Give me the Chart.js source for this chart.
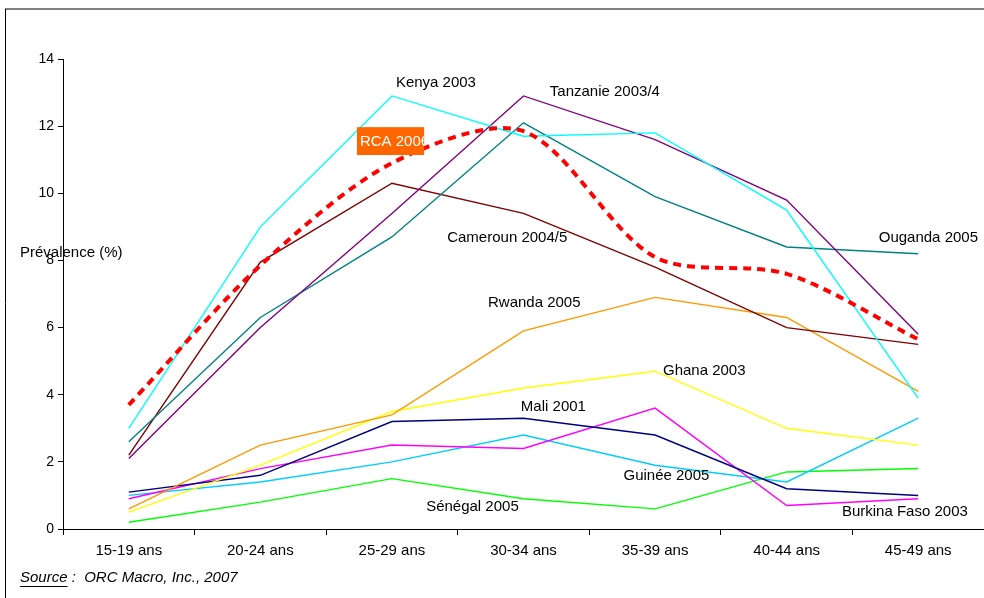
<!DOCTYPE html>
<html>
<head>
<meta charset="utf-8">
<script src="https://cdn.jsdelivr.net/npm/chart.js@4"></script>
<style>
  body { margin: 0; background: #fff; }
  canvas { display: block; }
</style>
</head>
<body>
<canvas id="prevalenceChart" width="984" height="598"></canvas>
<script>
'use strict'
var ageGroups = ['15-19 ans', '20-24 ans', '25-29 ans', '30-34 ans', '35-39 ans', '40-44 ans', '45-49 ans'];

var rca = [3.7, 7.85, 10.9, 11.85, 8.1, 7.6, 5.65];
var kenya = [3.0, 9.0, 12.9, 11.7, 11.8, 9.5, 3.9];
var tanzanie = [2.1, 6.0, 9.4, 12.9, 11.6, 9.8, 5.8];
var ouganda = [2.6, 6.3, 8.7, 12.1, 9.9, 8.4, 8.2];
var cameroun = [2.2, 7.95, 10.3, 9.4, 7.8, 6.0, 5.5];
var rwanda = [0.6, 2.5, 3.4, 5.9, 6.9, 6.3, 4.1];
var ghana = [0.5, 1.9, 3.5, 4.2, 4.7, 3.0, 2.5];
var mali = [1.1, 1.6, 3.2, 3.3, 2.8, 1.2, 1.0];
var burkina = [0.9, 1.8, 2.5, 2.4, 3.6, 0.7, 0.9];
var guinee = [1.0, 1.4, 2.0, 2.8, 1.9, 1.4, 3.3];
var senegal = [0.2, 0.8, 1.5, 0.9, 0.6, 1.7, 1.8];

var yTicks = [0, 2, 4, 6, 8, 10, 12, 14];

// labels placed in data space: x = category index, y = value
var seriesLabels = [
    { text: 'Kenya 2003', x: 2.03, y: 13.29 },
    { text: 'Tanzanie 2003/4', x: 3.20, y: 13.02 },
    { text: 'Cameroun 2004/5', x: 2.42, y: 8.67 },
    { text: 'Ouganda 2005', x: 5.70, y: 8.67 },
    { text: 'Rwanda 2005', x: 2.73, y: 6.73 },
    { text: 'Ghana 2003', x: 4.06, y: 4.71 },
    { text: 'Mali 2001', x: 2.98, y: 3.63 },
    { text: 'Guinée 2005', x: 3.76, y: 1.58 },
    { text: 'Sénégal 2005', x: 2.26, y: 0.66 },
    { text: 'Burkina Faso 2003', x: 5.42, y: 0.51 }
];
var rcaBox = { text: 'RCA 2006', x0: 1.734, x1: 2.245, y0: 11.97, y1: 11.14 };

var FONT = "'Liberation Sans', Arial, sans-serif";

function line(label, data, color) {
    return {
        label: label,
        data: data,
        borderColor: color,
        backgroundColor: color,
        borderWidth: 1.4,
        pointRadius: 0,
        tension: 0,
        fill: false
    };
}

var datasets = [
    {
        label: 'RCA 2006',
        data: rca,
        borderColor: '#FF0000',
        borderWidth: 4,
        borderDash: [8, 6],
        pointRadius: 0,
        tension: 0.3,
        fill: false
    },
    line('Kenya 2003', kenya, '#00FFFF'),
    line('Tanzanie 2003/4', tanzanie, '#800080'),
    line('Ouganda 2005', ouganda, '#008080'),
    line('Cameroun 2004/5', cameroun, '#800000'),
    line('Rwanda 2005', rwanda, '#FF9900'),
    line('Ghana 2003', ghana, '#FFFF00'),
    line('Mali 2001', mali, '#000080'),
    line('Burkina Faso 2003', burkina, '#FF00FF'),
    line('Guinée 2005', guinee, '#00CCFF'),
    line('Sénégal 2005', senegal, '#00FF00')
];

var decorations = {
    id: 'decorations',
    beforeDraw: function (chart) {
        var ctx = chart.ctx;
        ctx.save();
        ctx.fillStyle = '#fff';
        ctx.fillRect(0, 0, chart.width, chart.height);
        // frame
        ctx.strokeStyle = '#808080';
        ctx.lineWidth = 2;
        ctx.beginPath();
        ctx.moveTo(5, 9);
        ctx.lineTo(chart.width, 9);
        ctx.stroke();
        ctx.strokeStyle = '#000';
        ctx.lineWidth = 1;
        ctx.beginPath();
        ctx.moveTo(5.5, 9);
        ctx.lineTo(5.5, chart.height);
        ctx.stroke();
        ctx.restore();
    },
    afterDraw: function (chart) {
        var ctx = chart.ctx;
        var xs = chart.scales.x;
        var ys = chart.scales.y;
        ctx.save();
        ctx.font = '15px ' + FONT;
        ctx.fillStyle = '#000';
        ctx.textBaseline = 'middle';
        ctx.textAlign = 'left';
        seriesLabels.forEach(function (l) {
            ctx.fillText(l.text, xs.getPixelForValue(l.x), ys.getPixelForValue(l.y));
        });

        // RCA label box
        var bx0 = xs.getPixelForValue(rcaBox.x0);
        var bx1 = xs.getPixelForValue(rcaBox.x1);
        var by0 = ys.getPixelForValue(rcaBox.y0);
        var by1 = ys.getPixelForValue(rcaBox.y1);
        ctx.fillStyle = '#FF6600';
        ctx.fillRect(bx0, by0, bx1 - bx0, by1 - by0);
        ctx.save();
        ctx.beginPath();
        ctx.rect(bx0, by0, bx1 - bx0, by1 - by0);
        ctx.clip();
        ctx.fillStyle = '#fff';
        ctx.fillText(rcaBox.text, bx0 + 3, (by0 + by1) / 2 + 1);
        ctx.restore();

        // axis title
        ctx.fillStyle = '#000';
        ctx.fillText('Prévalence (%)', 20, 253);

        // source
        ctx.font = 'italic 15px ' + FONT;
        ctx.fillText('Source', 20, 578);
        var w = ctx.measureText('Source').width;
        ctx.fillText(' :  ORC Macro, Inc., 2007', 20 + w, 578);
        ctx.fillRect(20, 586, w, 1);
        ctx.restore();
    }
};

var chartArea = document.getElementById('prevalenceChart');
var prevalenceChart = new Chart(chartArea, {
    type: 'line',
    data: {
        labels: ageGroups,
        datasets: datasets
    },
    options: {
        responsive: false,
        animation: false,
        layout: {
            padding: { top: 59, right: 0, bottom: 0, left: 0 }
        },
        plugins: {
            legend: { display: false },
            tooltip: { enabled: false }
        },
        scales: {
            x: {
                offset: true,
                grid: {
                    offset: true,
                    drawOnChartArea: false,
                    tickLength: 6,
                    color: '#000'
                },
                border: { color: '#000', width: 1 },
                ticks: {
                    color: '#000',
                    padding: 7,
                    maxRotation: 0,
                    font: { family: FONT, size: 15 }
                },
                afterFit: function (scale) { scale.height = 69; }
            },
            y: {
                min: 0,
                max: 14,
                afterBuildTicks: function (scale) {
                    scale.ticks = yTicks.map(function (v) { return { value: v }; });
                },
                grid: {
                    drawOnChartArea: false,
                    tickLength: 5,
                    color: '#000'
                },
                border: { color: '#000', width: 1 },
                ticks: {
                    color: '#000',
                    padding: 4,
                    font: { family: FONT, size: 14 }
                },
                afterFit: function (scale) { scale.width = 63; }
            }
        }
    },
    plugins: [decorations]
});
</script>
</body>
</html>
